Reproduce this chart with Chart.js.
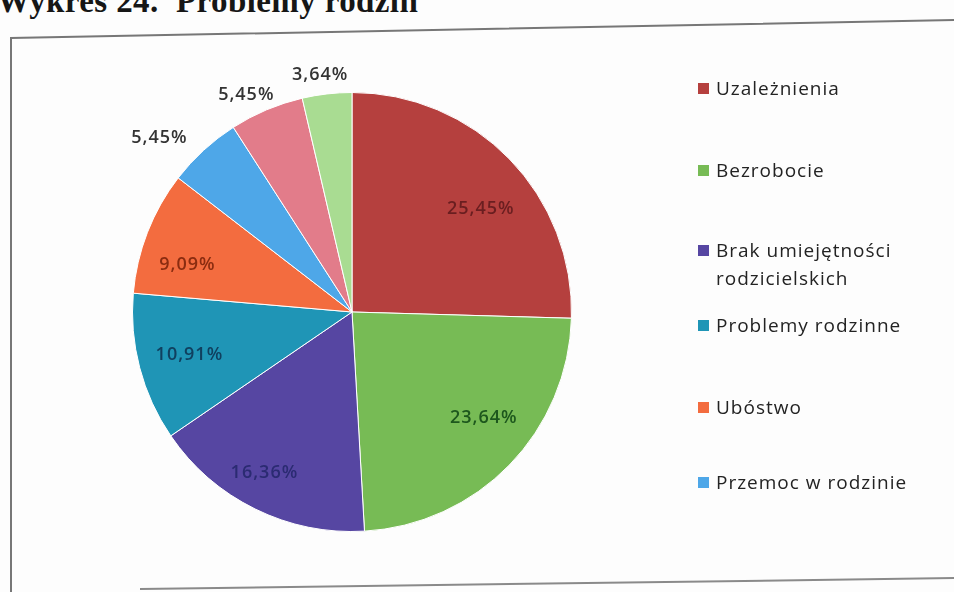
<!DOCTYPE html>
<html lang="pl">
<head>
<meta charset="utf-8">
<script src="https://cdn.jsdelivr.net/npm/chart.js@4.4.1/dist/chart.umd.min.js"></script>
<style>
  html, body { margin:0; padding:0; background:#fff; }
  #wrap { position:relative; width:954px; height:592px; overflow:hidden; background:#fdfdfd; }
  #title { position:absolute; left:-3px; top:-17px; font-family:"Liberation Serif","DejaVu Serif",serif; font-weight:bold; font-size:33px; color:#161616; white-space:nowrap; letter-spacing:0.4px; }
  #frame { position:absolute; left:0; top:0; }
  #c { position:absolute; left:0; top:0; }
  #legend { position:absolute; left:0; top:0; width:954px; height:592px; pointer-events:none; font-family:"Open Sans","DejaVu Sans",sans-serif; font-size:19px; letter-spacing:1px; color:#232323; }
  .li { position:absolute; left:698px; display:flex; align-items:flex-start; line-height:28px; }
  .sw { width:11px; height:11px; margin-top:9px; margin-right:7px; flex:none; }
</style>
</head>
<body>
<div id="wrap">
  <div id="title">Wykres 24.&nbsp;&nbsp;Problemy rodzin</div>
  <svg id="frame" width="954" height="592">
    <polyline points="11,596 11,38 960,20" fill="none" stroke="#777" stroke-width="2"/>
    <line x1="140" y1="589" x2="960" y2="578" stroke="#8a8a8a" stroke-width="2"/>
  </svg>
  <canvas id="c" width="954" height="592"></canvas>
  <div id="legend"></div>
</div>
<script>
// ---- data ----
const categories = [
  "Uzależnienia",
  "Bezrobocie",
  "Brak umiejętności rodzicielskich",
  "Problemy rodzinne",
  "Ubóstwo",
  "Przemoc w rodzinie",
  "Inne problemy",
  "Pozostałe"
];
const percentValues = [25.45, 23.64, 16.36, 10.91, 9.09, 5.45, 5.45, 3.64];
const legendLines = [
  ["Uzależnienia"],
  ["Bezrobocie"],
  ["Brak umiejętności", "rodzicielskich"],
  ["Problemy rodzinne"],
  ["Ubóstwo"],
  ["Przemoc w rodzinie"]
];

// ---- styles ----
const sliceColors = ["#b5403e", "#77bb55", "#5646a2", "#1f95b6", "#f36c3f", "#4ea7e8", "#e27c8a", "#a9dc92"];
const labelColors = ["#6a1e20", "#1d571d", "#2b2b72", "#10405f", "#8a2c10", "#333333", "#333333", "#333333"];
const labelNudge = [[6, 16], [9, -13], [-12, 7], [3, -1], [-5, 15], [-16, 4], [-4, 5], [-2, 3]];
const legendTops = [74, 156, 236, 311, 393, 468];

// HTML legend (first six entries visible, as in reference)
const lg = document.getElementById('legend');
legendLines.forEach((lines, i) => {
  const d = document.createElement('div');
  d.className = 'li';
  d.style.top = legendTops[i] + 'px';
  const s = document.createElement('div');
  s.className = 'sw';
  s.style.background = sliceColors[i];
  const t = document.createElement('div');
  t.innerHTML = lines.join('<br>');
  d.appendChild(s); d.appendChild(t);
  lg.appendChild(d);
});

const fmt = v => v.toFixed(2).replace('.', ',') + '%';

const pieLabels = {
  id: 'pieLabels',
  afterDatasetsDraw(chart) {
    const ctx = chart.ctx;
    const meta = chart.getDatasetMeta(0);
    ctx.save();
    ctx.font = '600 18px "Open Sans", "DejaVu Sans", sans-serif';
    if ('letterSpacing' in ctx) ctx.letterSpacing = '1px';
    ctx.textAlign = 'center';
    ctx.textBaseline = 'middle';
    meta.data.forEach((arc, i) => {
      const p = arc.getProps(['x', 'y', 'startAngle', 'endAngle', 'outerRadius'], true);
      const mid = (p.startAngle + p.endAngle) / 2;
      const v = percentValues[i];
      let r;
      if (v >= 8) r = p.outerRadius * 0.78;
      else r = p.outerRadius + 22;
      let x = p.x + Math.cos(mid) * r;
      let y = p.y + Math.sin(mid) * r;
      if (v < 8) {
        const w = ctx.measureText(fmt(v)).width;
        x += Math.cos(mid) * w * 0.35;
      }
      x += labelNudge[i][0];
      y += labelNudge[i][1];
      ctx.fillStyle = labelColors[i];
      ctx.fillText(fmt(v), x, y);
    });
    ctx.restore();
  }
};

new Chart(document.getElementById('c'), {
  type: 'pie',
  data: {
    labels: categories,
    datasets: [{
      data: percentValues,
      backgroundColor: sliceColors,
      borderColor: '#ffffff',
      borderWidth: 1
    }]
  },
  options: {
    responsive: false,
    animation: false,
    layout: { padding: { left: 132, right: 382, top: 92, bottom: 60 } },
    plugins: {
      legend: { display: false },
      tooltip: { enabled: false }
    }
  },
  plugins: [pieLabels]
});
</script>
</body>
</html>
